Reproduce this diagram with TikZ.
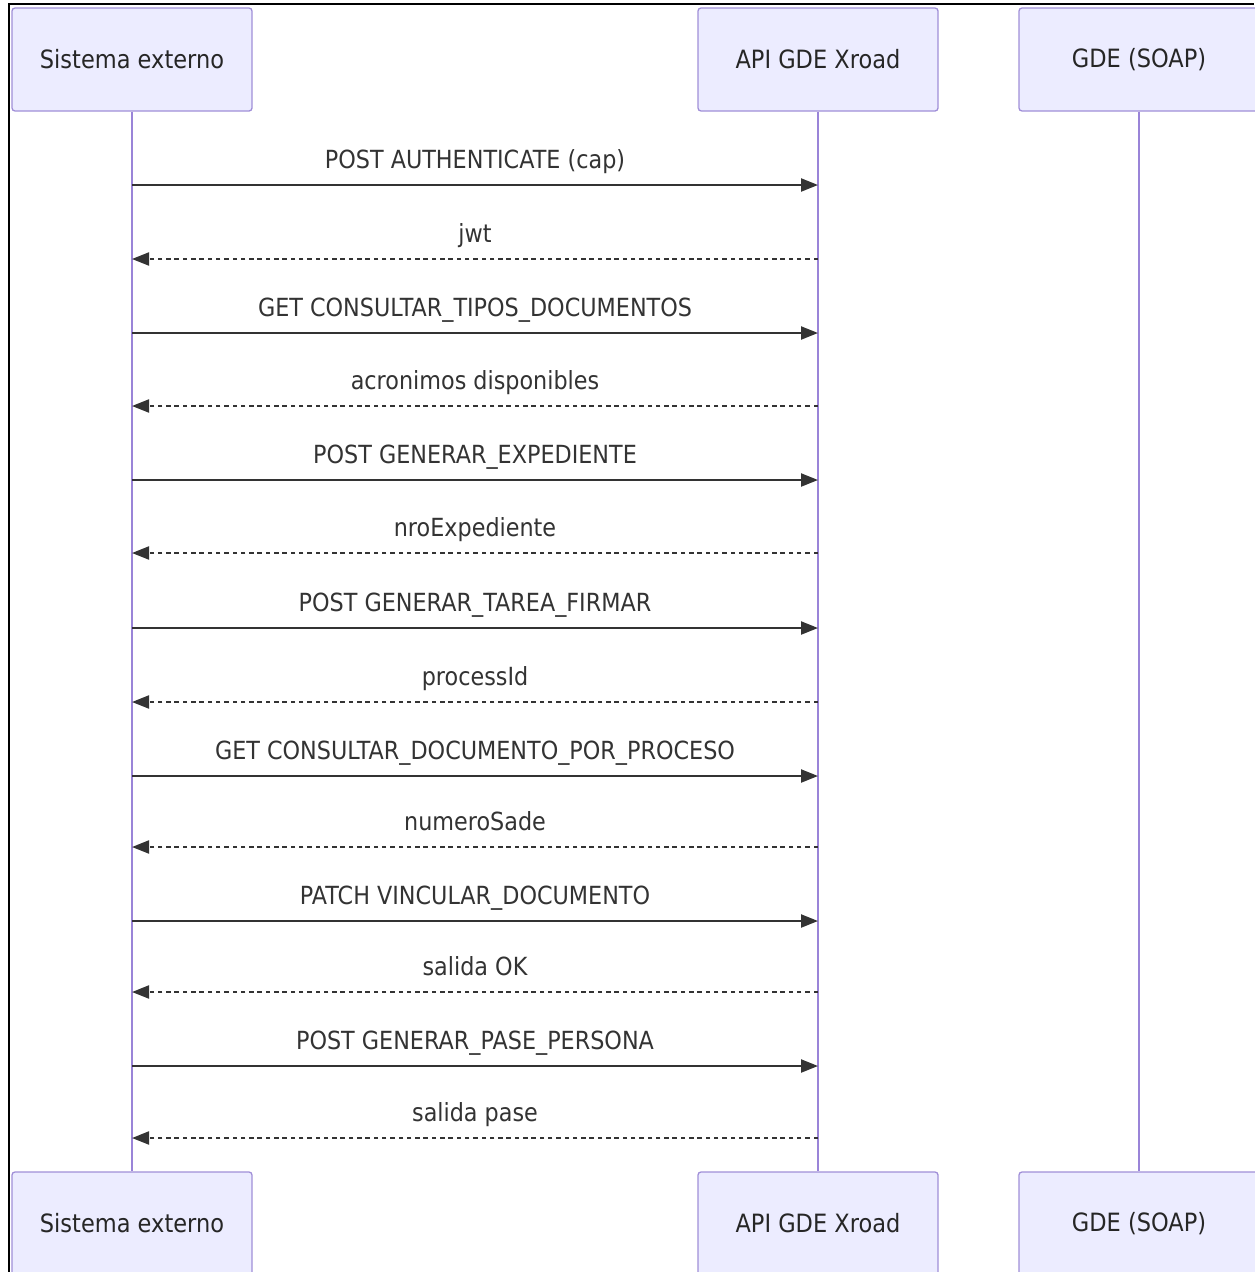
\documentclass[tikz,border=0pt]{standalone}
\usepackage{fontspec}
\usepackage{graphicx}
\setmainfont{DejaVu Sans}
\usetikzlibrary{arrows.meta}
\definecolor{actfill}{HTML}{ECECFF}
\definecolor{actdraw}{HTML}{A08FD8}
\definecolor{lifec}{HTML}{9A84D8}
\definecolor{msgc}{HTML}{333333}
\newcommand{\talltext}[1]{\scalebox{1}[1.12]{#1}}
\tikzset{
  actor/.style={draw=actdraw, line width=1.3pt, fill=actfill, rounded corners=3pt,
    minimum width=240pt, minimum height=103pt, inner sep=0pt,
    font=\fontsize{22.5}{26}\selectfont, text=black!85},
  lifeline/.style={draw=lifec, line width=2.2pt},
  msgline/.style={draw=msgc, line width=2.2pt, -{Triangle[length=17pt,width=13pt]}},
  msgdash/.style={msgline, line width=2pt, dash pattern=on 4.5pt off 3.8pt},
  msglabel/.style={anchor=base, inner sep=0pt, font=\fontsize{22.3}{26}\selectfont, text=msgc},
}
\begin{document}
\begin{tikzpicture}[x=1pt,y=-1pt]
\useasboundingbox (0,0) rectangle (1254,1272);
\fill[white] (0,0) rectangle (1254,1272);
% frame
\draw[black, line width=2.2pt] (9,1272) -- (9,4) -- (1254,4);
% actors
\node[actor] (ext) at (132,59.5) {\talltext{Sistema externo}};
\node[actor] (api) at (818,59.5) {\talltext{API GDE Xroad}};
\node[actor] (gde) at (1139,59.5) {\talltext{GDE (SOAP)}};
\node[actor] (extb) at (132,1223.5) {\talltext{Sistema externo}};
\node[actor] (apib) at (818,1223.5) {\talltext{API GDE Xroad}};
\node[actor] (gdeb) at (1139,1223.5) {\talltext{GDE (SOAP)}};
% lifelines
\draw[lifeline] (ext.south) -- (extb.north);
\draw[lifeline] (api.south) -- (apib.north);
\draw[lifeline] (gde.south) -- (gdeb.north);
% message positions and labels
\foreach \i/\y/\txt in {
  1/185/{POST AUTHENTICATE (cap)},
  2/259/{jwt},
  3/333/{GET CONSULTAR\_TIPOS\_DOCUMENTOS},
  4/406/{acronimos disponibles},
  5/480/{POST GENERAR\_EXPEDIENTE},
  6/553/{nroExpediente},
  7/628/{POST GENERAR\_TAREA\_FIRMAR},
  8/702/{processId},
  9/776/{GET CONSULTAR\_DOCUMENTO\_POR\_PROCESO},
  10/847/{numeroSade},
  11/921/{PATCH VINCULAR\_DOCUMENTO},
  12/992/{salida OK},
  13/1066/{POST GENERAR\_PASE\_PERSONA},
  14/1138/{salida pase}}{
  \coordinate (m\i) at (475,\y);
  \node[msglabel] (l\i) at (475,\y-17) {\talltext{\txt}};
}
% requests
\foreach \i in {1,3,5,7,9,11,13}{
  \draw[msgline] (ext.south |- m\i) -- (api.south |- m\i);
}
% responses
\foreach \i in {2,4,6,8,10,12,14}{
  \draw[msgdash] (api.south |- m\i) -- (ext.south |- m\i);
}
\end{tikzpicture}
\end{document}
